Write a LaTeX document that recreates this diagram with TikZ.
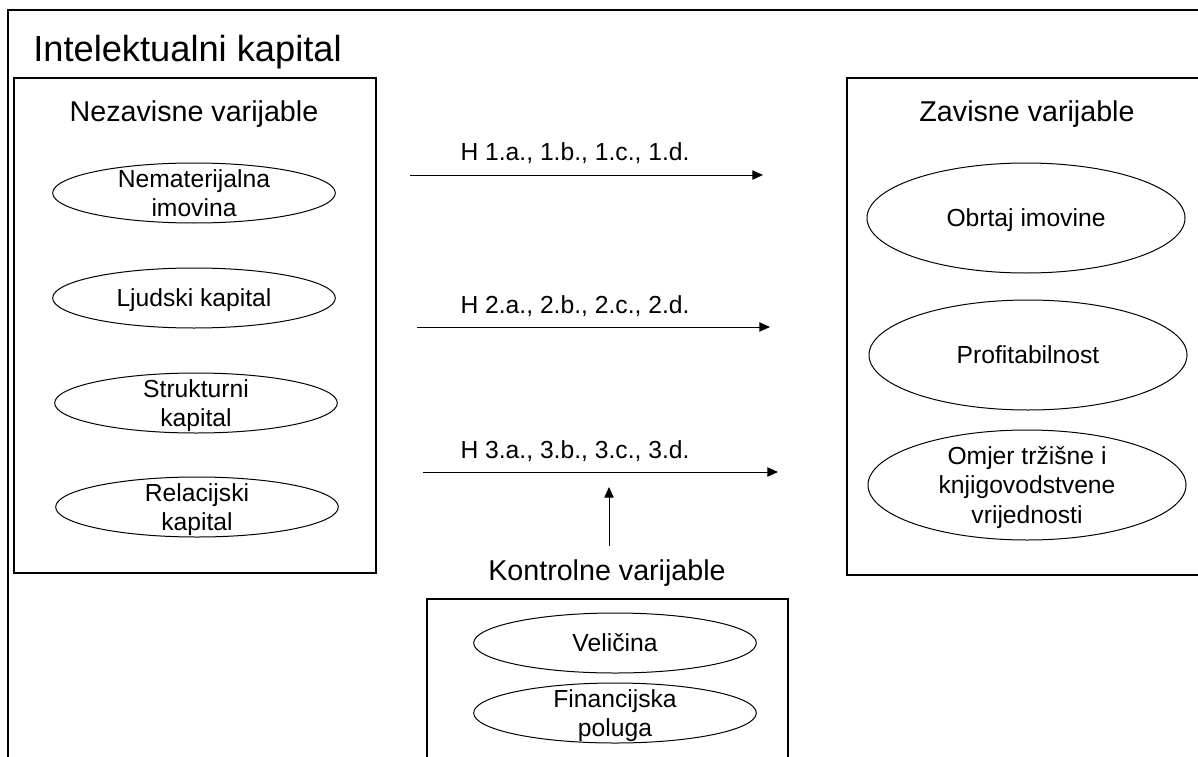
\documentclass[tikz,border=0pt]{standalone}
\usepackage{fontspec}
\setmainfont{Liberation Sans}
\usetikzlibrary{shapes,arrows.meta}

\newcommand{\ovaltext}[1]{\smash{\raisebox{-6.5pt}{\begin{tabular}{@{}c@{}}#1\end{tabular}}}}

\begin{document}
\begin{tikzpicture}[x=0.75pt,y=-0.75pt]
	\tikzset{frame/.style={draw,line width=1.2pt,inner sep=0pt}}
	\tikzset{oval/.style={draw,ellipse,line width=0.75pt,inner sep=0pt,minimum width=212pt,minimum height=45pt,font=\fontsize{18.5}{22}\selectfont}}
	\tikzset{bigoval/.style={oval,minimum width=238.5pt,minimum height=82.5pt}}
	\tikzset{heading/.style={anchor=base,inner sep=0pt,font=\fontsize{21.5}{26}\selectfont}}
	\tikzset{hyp/.style={anchor=base,inner sep=0pt,font=\fontsize{18.5}{22}\selectfont}}
	\tikzset{link/.style={-{Triangle[length=8pt,width=7pt]},line width=0.75pt}}
	\useasboundingbox (0,0) rectangle (1198,756);
	\clip (0,0) rectangle (1198,756);
	% frames
	\node[frame,minimum width=905.25pt,minimum height=573.75pt] (outer) at (611.5,392.5) {};
	\node[anchor=base west,inner sep=0pt,font=\fontsize{27.2}{32}\selectfont] (title) at (33,62) {Intelektualni kapital};
	\node[frame,minimum width=271.5pt,minimum height=371.25pt] (nezbox) at (195,325.5) {};
	\node[frame,minimum width=276pt,minimum height=372.75pt] (zavbox) at (1031,326.5) {};
	\node[frame,minimum width=270.75pt,minimum height=132pt] (kontbox) at (607.5,687) {};
	% headings
	\node[heading] (nez) at (194,122) {Nezavisne varijable};
	\node[heading] (zav) at (1027,122) {Zavisne varijable};
	\node[heading] (kont) at (607,580) {Kontrolne varijable};
	% independent
	\node[oval] (nemat) at (194,193) {\ovaltext{Nematerijalna\\imovina}};
	\node[oval] (ljudski) at (194,298) {\ovaltext{Ljudski kapital}};
	\node[oval] (strukt) at (196,403) {\ovaltext{Strukturni\\kapital}};
	\node[oval] (relac) at (197,507) {\ovaltext{Relacijski\\kapital}};
	% dependent
	\node[bigoval] (obrtaj) at (1026,218) {\ovaltext{Obrtaj imovine}};
	\node[bigoval] (profit) at (1028,355) {\ovaltext{Profitabilnost}};
	\node[bigoval] (omjer) at (1027,485) {\ovaltext{Omjer tržišne i\\knjigovodstvene\\vrijednosti}};
	% control
	\node[oval] (velic) at (615,643) {\ovaltext{Veličina}};
	\node[oval] (finan) at (615,713) {\ovaltext{Financijska\\poluga}};
	% hypotheses
	\node[hyp] (h1) at (575,161) {H 1.a., 1.b., 1.c., 1.d.};
	\node[hyp] (h2) at (575,313) {H 2.a., 2.b., 2.c., 2.d.};
	\node[hyp] (h3) at (575,458) {H 3.a., 3.b., 3.c., 3.d.};
	\coordinate (a1) at (410,175); \coordinate (b1) at (763,175);
	\coordinate (a2) at (417,327); \coordinate (b2) at (770,327);
	\coordinate (a3) at (423,472); \coordinate (b3) at (778,472);
	\coordinate (c1) at (609,546); \coordinate (c2) at (609,487);
	\draw[link] (a1) -- (b1);
	\draw[link] (a2) -- (b2);
	\draw[link] (a3) -- (b3);
	\draw[link] (c1) -- (c2);
\end{tikzpicture}
\end{document}
